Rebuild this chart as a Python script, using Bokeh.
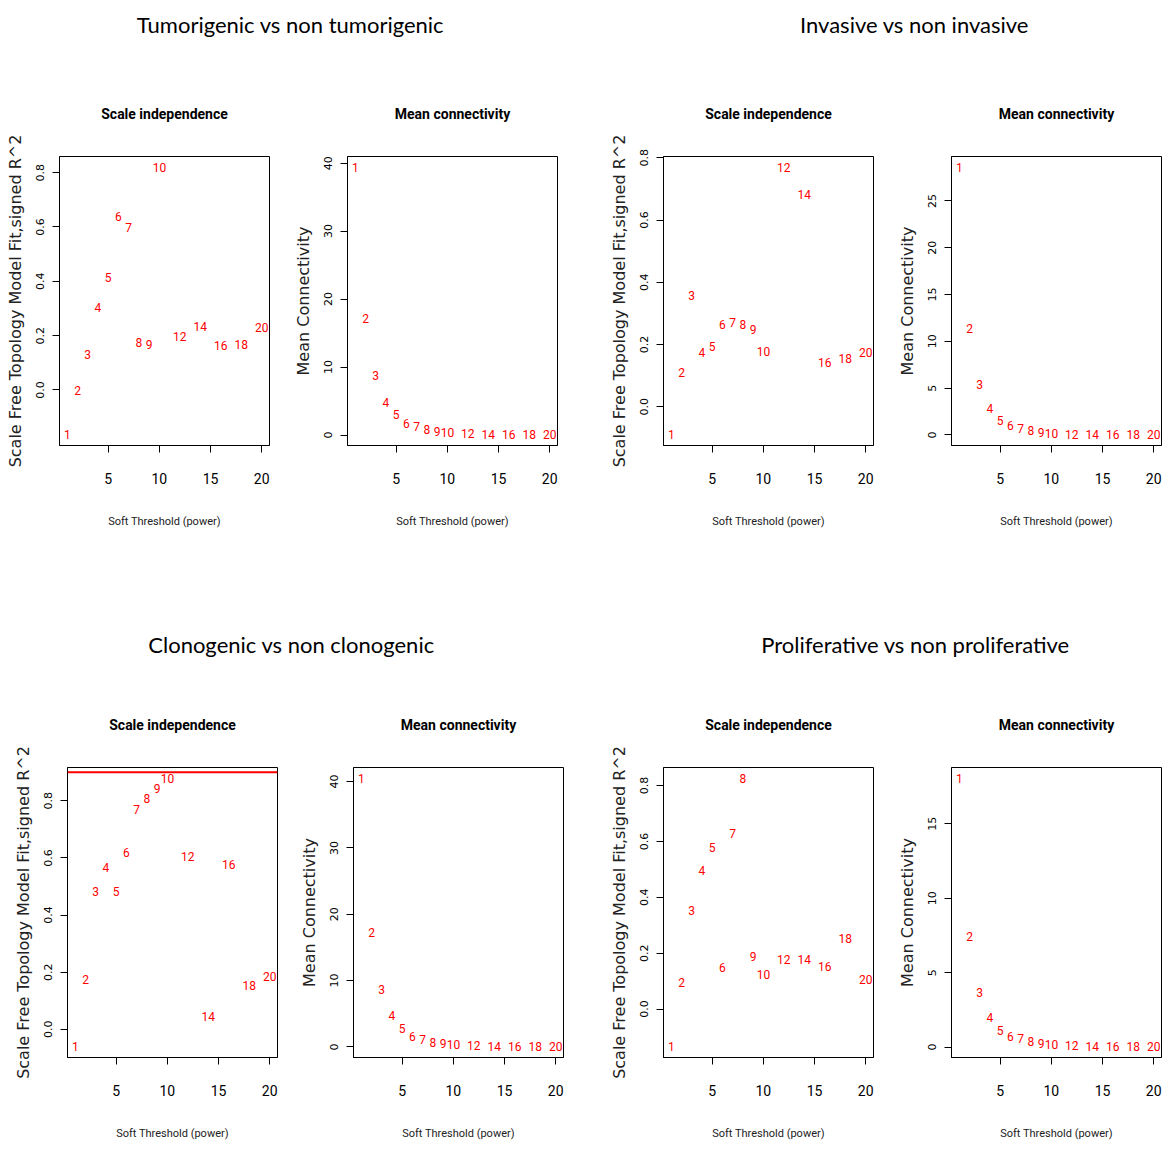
from bokeh.plotting import figure
from bokeh.layouts import column, row
from bokeh.models import Range1d, FixedTicker, Span, Label, ColumnDataSource, PrintfTickFormatter
from bokeh.core.properties import value
from bokeh.embed import file_html
from bokeh.resources import INLINE

# ---------------- data ----------------
powers = [1, 2, 3, 4, 5, 6, 7, 8, 9, 10, 12, 14, 16, 18, 20]
x_ticks = [5, 10, 15, 20]

group_titles = ["Tumorigenic vs non tumorigenic", "Invasive vs non invasive",
                "Clonogenic vs non clonogenic", "Proliferative vs non proliferative"]

# signed scale-free topology fit R^2
tum_sft = [-0.165, -0.002, 0.13, 0.303, 0.414, 0.637, 0.597, 0.174, 0.166, 0.82, 0.198, 0.234, 0.164, 0.167, 0.231]
inv_sft = [-0.09, 0.109, 0.359, 0.175, 0.194, 0.265, 0.271, 0.263, 0.247, 0.178, 0.77, 0.681, 0.143, 0.154, 0.173]
clo_sft = [-0.061, 0.175, 0.482, 0.566, 0.482, 0.62, 0.768, 0.809, 0.842, 0.879, 0.605, 0.044, 0.576, 0.153, 0.185]
pro_sft = [-0.135, 0.096, 0.351, 0.496, 0.578, 0.148, 0.629, 0.826, 0.187, 0.125, 0.176, 0.176, 0.152, 0.253, 0.104]

# mean connectivity
tum_k = [39.4, 17.2, 8.8, 4.8, 3.0, 1.7, 1.2, 0.75, 0.5, 0.35, 0.2, 0.12, 0.08, 0.05, 0.03]
inv_k = [28.6, 11.4, 5.4, 2.8, 1.6, 1.0, 0.7, 0.47, 0.3, 0.2, 0.1, 0.07, 0.05, 0.03, 0.02]
clo_k = [40.5, 17.2, 8.6, 4.8, 2.8, 1.6, 1.1, 0.6, 0.5, 0.4, 0.2, 0.12, 0.08, 0.05, 0.03]
pro_k = [18.06, 7.45, 3.66, 1.99, 1.13, 0.72, 0.56, 0.34, 0.23, 0.18, 0.1, 0.07, 0.05, 0.03, 0.02]

sft_ticks = [0.0, 0.2, 0.4, 0.6, 0.8]
tum_k_ticks = [0, 10, 20, 30, 40]
inv_k_ticks = [0, 5, 10, 15, 20, 25, 30]
clo_k_ticks = [0, 10, 20, 30, 40]
pro_k_ticks = [0, 5, 10, 15]

clo_cutoff = 0.9

# ---------------- style ----------------
NARROW = "Roboto"
ROT = "DejaVu Sans"
MAIN = "Lato"


def panel(x, y, title, ylabel, yticks, yfmt, width, height, bl, br, bt, bb, cutoff=None):
    lo, hi = min(y), max(y)
    pad = 0.04 * (hi - lo)
    xlo, xhi = min(x), max(x)
    xpad = 0.04 * (xhi - xlo)
    p = figure(width=width, height=height,
               x_range=Range1d(xlo - xpad, xhi + xpad),
               y_range=Range1d(lo - pad, hi + pad),
               toolbar_location=None, output_backend="svg",
               min_border_left=bl, min_border_right=br,
               min_border_top=bt, min_border_bottom=bb)
    p.grid.visible = False
    p.outline_line_color = "black"
    p.outline_line_alpha = 1.0
    p.outline_line_width = 1
    p.background_fill_color = "white"
    p.border_fill_color = "white"

    p.title.text = title
    p.title.align = "center"
    p.title.text_font = NARROW
    p.title.text_font_style = "bold"
    p.title.text_font_size = "14px"
    p.title.text_color = "black"
    p.title.standoff = 70

    for ax in (p.xaxis[0], p.yaxis[0]):
        ax.major_tick_out = 7
        ax.major_tick_in = 0
        ax.minor_tick_out = 0
        ax.minor_tick_in = 0
        ax.axis_line_color = "black"
        ax.major_tick_line_color = "black"
        ax.major_label_text_color = "black"
        ax.axis_label_text_color = "#222222"
        ax.axis_label_text_font_style = "normal"

    xa = p.xaxis[0]
    xa.ticker = FixedTicker(ticks=x_ticks)
    xa.major_label_text_font = NARROW
    xa.major_label_text_font_size = "14px"
    xa.major_label_standoff = 20
    xa.axis_label = "Soft Threshold (power)"
    xa.axis_label_text_font = NARROW
    xa.axis_label_text_font_size = "11px"
    xa.axis_label_standoff = 28

    ya = p.yaxis[0]
    ya.ticker = FixedTicker(ticks=yticks)
    ya.formatter = PrintfTickFormatter(format=yfmt)
    ya.major_label_orientation = "vertical"
    ya.major_label_text_font = ROT
    ya.major_label_text_font_size = "11px"
    ya.major_label_standoff = 8
    ya.axis_label = ylabel
    ya.axis_label_text_font = ROT
    ya.axis_label_text_font_size = "16px"
    ya.axis_label_standoff = 9

    if cutoff is not None:
        p.add_layout(Span(location=cutoff, dimension="width", line_color="red", line_width=2))

    src = ColumnDataSource(dict(x=x, y=y, lab=[str(v) for v in x]))
    p.text(x="x", y="y", text="lab", source=src, text_color="red",
           text_font=value(NARROW), text_font_size="12px",
           text_align="center", text_baseline="middle")
    return p


def header(h, items):
    p = figure(width=1166, height=h, x_range=Range1d(0, 1166), y_range=Range1d(0, h),
               toolbar_location=None, output_backend="svg",
               x_axis_location=None, y_axis_location=None, min_border=0)
    p.grid.visible = False
    p.outline_line_color = None
    for txt, cx, cy in items:
        p.add_layout(Label(x=cx, y=cy, text=txt, text_align="center", text_baseline="middle",
                           text_font=MAIN, text_font_size="22px", text_color="black"))
    return p


SI = "Scale independence"
MC = "Mean connectivity"
SFT_LAB = "Scale Free Topology Model Fit,signed R^2"
K_LAB = "Mean Connectivity"

h1 = header(68, [(group_titles[0], 290, 44), (group_titles[1], 914, 44)])
h2 = header(119, [(group_titles[2], 291, 35), (group_titles[3], 915, 35)])

p1 = panel(powers, tum_sft, SI, SFT_LAB, sft_ticks, "%.1f", 290, 492, 59, 21, 88, 115)
p2 = panel(powers, tum_k, MC, K_LAB, tum_k_ticks, "%d", 310, 492, 57, 43, 88, 115)
p3 = panel(powers, inv_sft, SI, SFT_LAB, sft_ticks, "%.1f", 290, 492, 63, 17, 88, 115)
p4 = panel(powers, inv_k, MC, K_LAB, inv_k_ticks, "%d", 276, 492, 61, 5, 88, 115)

p5 = panel(powers, clo_sft, SI, SFT_LAB, sft_ticks, "%.1f", 290, 466, 67, 13, 88, 88, cutoff=clo_cutoff)
p6 = panel(powers, clo_k, MC, K_LAB, clo_k_ticks, "%d", 310, 466, 63, 37, 88, 88)
p7 = panel(powers, pro_sft, SI, SFT_LAB, sft_ticks, "%.1f", 290, 466, 63, 17, 88, 88)
p8 = panel(powers, pro_k, MC, K_LAB, pro_k_ticks, "%d", 276, 466, 61, 5, 88, 88)

layout = column(h1, row(p1, p2, p3, p4), h2, row(p5, p6, p7, p8))

open("out.html", "w").write(file_html(layout, INLINE))
